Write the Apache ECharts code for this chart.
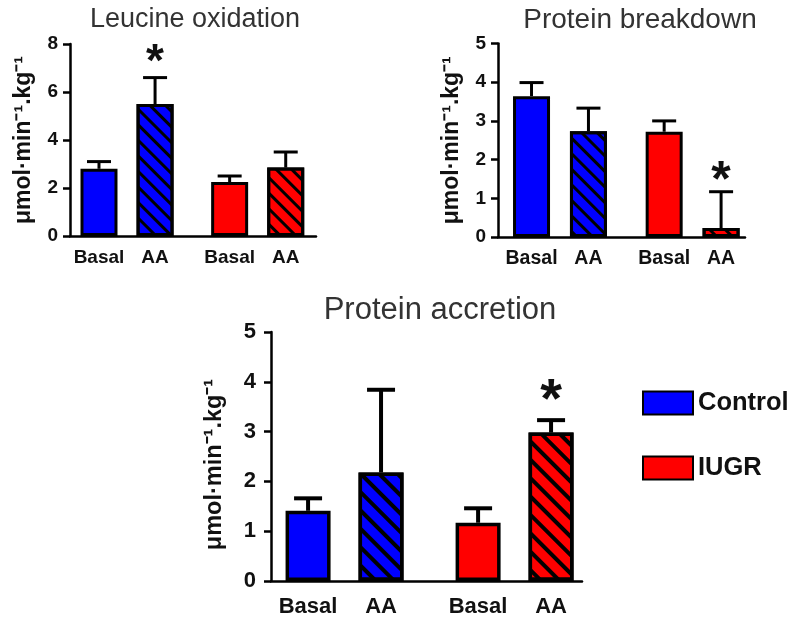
<!DOCTYPE html>
<html>
<head>
<meta charset="utf-8">
<script src="https://cdn.jsdelivr.net/npm/echarts@6/dist/echarts.min.js"></script>
<style>
  html, body { margin: 0; padding: 0; background: #fff; }
  #chart { width: 800px; height: 629px; }
</style>
</head>
<body>
<div id="chart"></div>
<script>
// ---------- DATA ----------
const barLabels = ['Basal', 'AA', 'Basal', 'AA'];
const barGroups = ['Control', 'Control', 'IUGR', 'IUGR'];
const groupNames = ['Control', 'IUGR'];
const yAxisTitle = 'μmol·min⁻¹.kg⁻¹';

const leucineTitle = 'Leucine oxidation';
const leucineMean = [2.8, 5.5, 2.25, 2.85];
const leucineSem = [0.3, 1.1, 0.25, 0.65];
const leucineSig = [false, true, false, false];
const leucineMax = 8, leucineStep = 2;

const breakdownTitle = 'Protein breakdown';
const breakdownMean = [3.64, 2.73, 2.72, 0.23];
const breakdownSem = [0.35, 0.6, 0.28, 0.94];
const breakdownSig = [false, false, false, true];
const breakdownMax = 5, breakdownStep = 1;

const accretionTitle = 'Protein accretion';
const accretionMean = [1.41, 2.18, 1.17, 2.98];
const accretionSem = [0.25, 1.66, 0.29, 0.25];
const accretionSig = [false, false, false, true];
const accretionMax = 5, accretionStep = 1;

// ---------- LAYOUT / STYLE ----------
const FONT = '"Liberation Sans", Arial, Helvetica, sans-serif';
const GROUP_GAP = 0.33;
const positions = barLabels.map((_, i) => i + (i >= 2 ? GROUP_GAP : 0));
const groupColor = { Control: '#0000ff', IUGR: '#ff0000' };

const panels = [
  { title: leucineTitle, mean: leucineMean, sem: leucineSem, sig: leucineSig, max: leucineMax, step: leucineStep,
    grid: { left: 70, top: 44, width: 246, height: 192 }, xMin: -0.517, xMax: 3.87,
    titleX: 195, titleY: 6, titleSize: 27, barW: 37, border: 3, cap: 12, errW: 3,
    tickSize: 19, tickMargin: 12, catSize: 19, catMargin: 12, nameGap: 35, nameSize: 23, namePad: [0, 0, 0, 0],
    starSize: 46, starOff: 14, hatch: [3, 8] },
  { title: breakdownTitle, mean: breakdownMean, sem: breakdownSem, sig: breakdownSig, max: breakdownMax, step: breakdownStep,
    grid: { left: 498, top: 43.5, width: 247, height: 193.5 }, xMin: -0.589, xMax: 3.75,
    titleX: 640, titleY: 6, titleSize: 28, barW: 37, border: 3, cap: 12, errW: 3,
    tickSize: 19, tickMargin: 12, catSize: 19.5, catMargin: 12, nameGap: 35, nameSize: 23, namePad: [0, 0, 0, 0],
    starSize: 50, starOff: 10, hatch: [3, 8] },
  { title: accretionTitle, mean: accretionMean, sem: accretionSem, sig: accretionSig, max: accretionMax, step: accretionStep,
    grid: { left: 271, top: 332, width: 311, height: 249 }, xMin: -0.508, xMax: 3.754,
    titleX: 440, titleY: 295, titleSize: 31, barW: 45, border: 3.5, cap: 14, errW: 4,
    tickSize: 22, tickMargin: 15, catSize: 22, catMargin: 15, nameGap: 44, nameSize: 23.5, namePad: [0, 16, 0, 0],
    starSize: 56, starOff: 19, hatch: [3.5, 8.5] }
];

const option = {
  animation: false,
  backgroundColor: '#fff',
  textStyle: { fontFamily: FONT },
  title: [],
  grid: [],
  xAxis: [],
  yAxis: [],
  series: [],
  legend: {
    data: groupNames,
    orient: 'vertical',
    left: 642, top: 390,
    itemWidth: 50, itemHeight: 23, itemGap: 39,
    icon: 'rect',
    selectedMode: false,
    padding: 0,
    textStyle: { fontFamily: FONT, fontSize: 25.5, fontWeight: 'bold', color: '#111' }
  }
};

panels.forEach((p, k) => {
  option.title.push({
    text: p.title, left: p.titleX, top: p.titleY, textAlign: 'center', padding: 0,
    textStyle: { fontFamily: FONT, fontSize: p.titleSize, fontWeight: 'normal', color: '#333' }
  });
  option.grid.push(Object.assign({ outerBoundsMode: 'none', containLabel: false }, p.grid));
  option.xAxis.push({
    type: 'value', gridIndex: k, min: p.xMin, max: p.xMax,
    axisLine: { show: true, onZero: false, lineStyle: { color: '#000', width: 2.5 } },
    axisTick: { show: false },
    splitLine: { show: false },
    axisLabel: {
      customValues: positions,
      formatter: v => { const i = positions.findIndex(q => Math.abs(q - v) < 1e-6); return i >= 0 ? barLabels[i] : ''; },
      fontFamily: FONT, fontSize: p.catSize, fontWeight: 'bold', color: '#111', margin: p.catMargin
    }
  });
  option.yAxis.push({
    type: 'value', gridIndex: k, min: 0, max: p.max, interval: p.step,
    axisLine: { show: true, onZero: false, lineStyle: { color: '#000', width: 2.5 } },
    axisTick: { show: true, length: 7, lineStyle: { color: '#000', width: 2.5 } },
    splitLine: { show: false },
    axisLabel: { fontFamily: FONT, fontSize: p.tickSize, fontWeight: 'bold', color: '#111', margin: p.tickMargin },
    name: yAxisTitle, nameLocation: 'middle', nameGap: p.nameGap,
    nameTextStyle: { fontFamily: FONT, fontSize: p.nameSize, fontWeight: 'bold', color: '#111', padding: p.namePad }
  });

  const decal = {
    symbol: 'rect', symbolSize: 1, color: '#000',
    dashArrayX: [1, 0], dashArrayY: p.hatch, rotation: Math.PI / 4
  };

  groupNames.forEach((g) => {
    const data = [];
    barLabels.forEach((lab, i) => {
      if (barGroups[i] !== g) return;
      const item = { value: [positions[i], p.mean[i]] };
      if (lab === 'AA') item.itemStyle = { decal: decal };
      data.push(item);
    });
    option.series.push({
      type: 'bar', name: g, xAxisIndex: k, yAxisIndex: k,
      barWidth: p.barW, barGap: '-100%',
      itemStyle: { color: groupColor[g], borderColor: '#000', borderWidth: p.border },
      data: data, z: 2
    });
  });

  option.series.push({
    type: 'custom', name: 'err' + k, xAxisIndex: k, yAxisIndex: k, z: 3,
    data: positions.map((x, i) => [x, p.mean[i], p.mean[i] + p.sem[i]]),
    renderItem: (params, api) => {
      const a = api.coord([api.value(0), api.value(1)]);
      const b = api.coord([api.value(0), api.value(2)]);
      const st = { stroke: '#000', lineWidth: p.errW };
      return { type: 'group', children: [
        { type: 'line', shape: { x1: a[0], y1: a[1], x2: b[0], y2: b[1] }, style: st },
        { type: 'line', shape: { x1: b[0] - p.cap, y1: b[1], x2: b[0] + p.cap, y2: b[1] }, style: st }
      ]};
    }
  });

  option.series.push({
    type: 'custom', name: 'sig' + k, xAxisIndex: k, yAxisIndex: k, z: 4,
    data: positions.map((x, i) => [x, p.mean[i] + p.sem[i]]).filter((_, i) => p.sig[i]),
    renderItem: (params, api) => {
      const b = api.coord([api.value(0), api.value(1)]);
      return { type: 'text', style: {
        text: '*', x: b[0], y: b[1] - p.starOff, align: 'center', verticalAlign: 'middle',
        fontFamily: FONT, fontSize: p.starSize, fontWeight: 'bold', fill: '#111'
      }};
    }
  });
});

const chart = echarts.init(document.getElementById('chart'), null, { renderer: 'canvas' });
chart.setOption(option);
</script>
</body>
</html>
